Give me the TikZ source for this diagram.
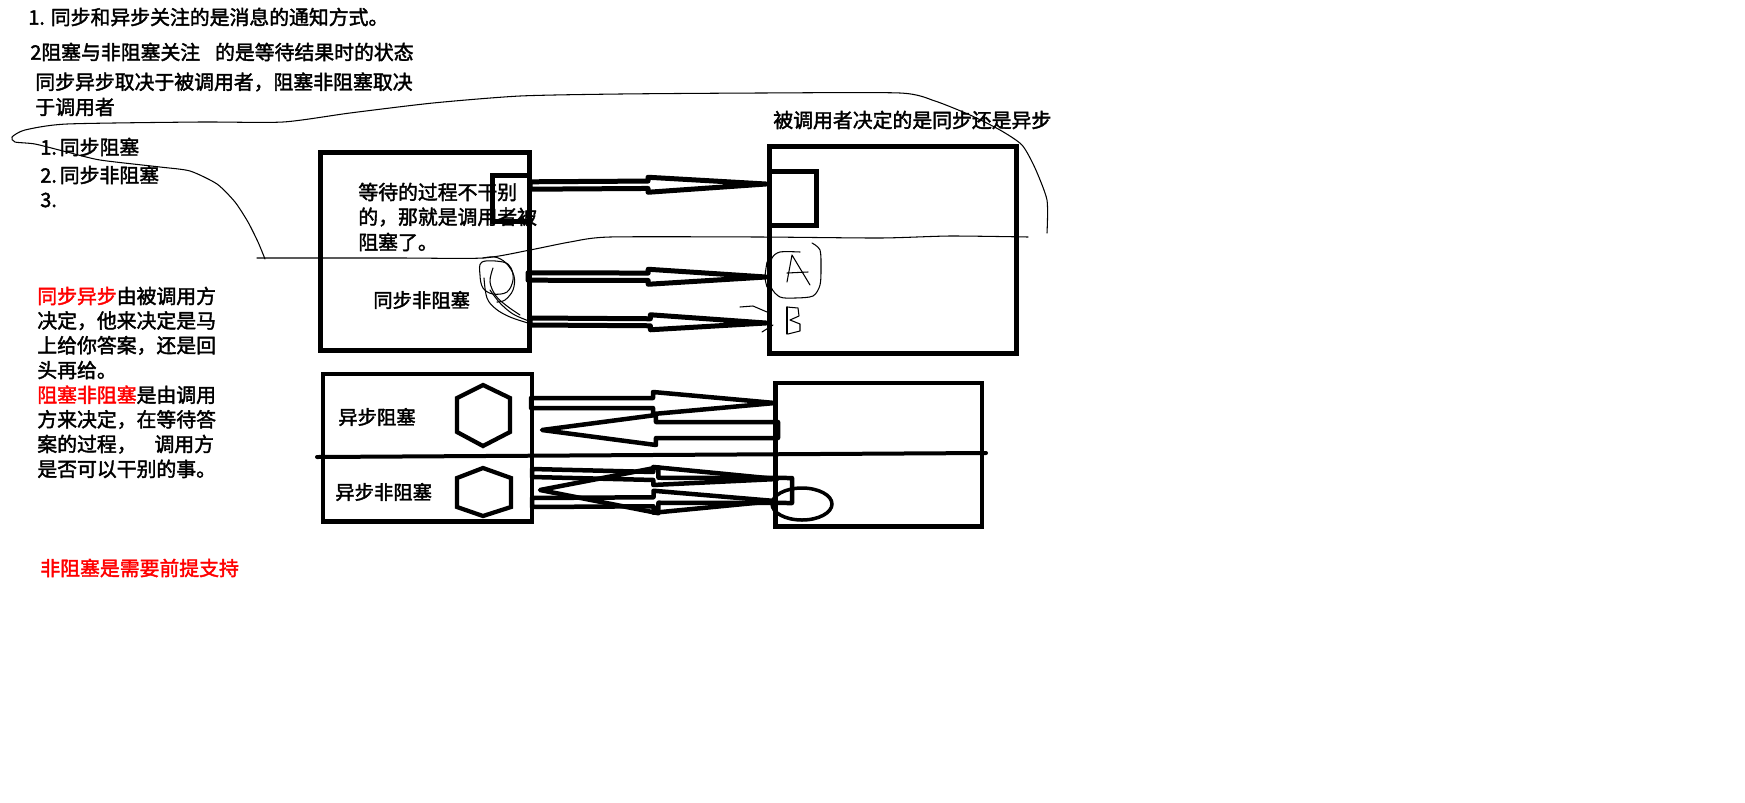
\documentclass[tikz,border=0pt]{standalone}
\usepackage{fontspec}
\newfontfamily\cjk{Noto Sans CJK SC}[FakeBold=2]
\usepackage{tikz}
\usetikzlibrary{positioning, calc, fit}

\begin{document}
\begin{tikzpicture}[x=0.02cm, y=-0.02cm,
        box/.style={draw, line width=0.1cm, inner sep=0pt},
        lowbox/.style={draw, line width=0.09cm, inner sep=0pt},
        hollow/.style={line width=0.1cm, line join=round},
        lowhollow/.style={line width=0.09cm, line join=round},
        hexline/.style={line width=0.085cm},
        scribble/.style={line width=0.6pt, line cap=round, line join=round},
        txt/.style={anchor=west, inner sep=0pt, font=\cjk\fontsize{11.3}{14}\selectfont},
        redtxt/.style={txt, text=red}]
        \useasboundingbox (0,0) rectangle (1745,802);

        % Notes on top
        \node[txt] (n1) at (28,17) {1.\hspace{0.3em}同步和异步关注的是消息的通知方式。};
        \node[txt] (n2) at (30,52) {2阻塞与非阻塞关注\hspace{0.75em}的是等待结果时的状态};
        \node[txt] (n3) at (35,82) {同步异步取决于被调用者，阻塞非阻塞取决};
        \node[txt] (n4) at (35,107) {于调用者};
        \node[txt] (k1) at (40,147) {1.\hspace{0.15em}同步阻塞};
        \node[txt] (k2) at (40,175) {2.\hspace{0.15em}同步非阻塞};
        \node[txt] (k3) at (40,200) {3.};

        % Notes on the left
        \foreach \t [count=\i] in {{\color{red}同步异步}由被调用方, 决定，他来决定是马,
            上给你答案，还是回, 头再给。, {\color{red}阻塞非阻塞}是由调用,
            方来决定，在等待答, 案的过程，\hspace{0.9em}调用方, 是否可以干别的事。} {
            \node[txt] (why\i) at (37, 271.3+24.7*\i) {\t};
        }
        \node[redtxt] (need) at (40,568) {非阻塞是需要前提支持};
        \node[txt] (callee) at (773,120) {被调用者决定的是同步还是异步};

        % Synchronous part
        \node[txt] (w1) at (358,192) {等待的过程不干别};
        \node[txt] (w2) at (358,217) {的，那就是调用者被};
        \node[txt] (w3) at (358,242) {阻塞了。};
        \node[txt, font=\cjk\fontsize{11}{14}\selectfont] (snb) at (373,300) {同步非阻塞};

        \coordinate (q1) at (530,185.5); \coordinate (r1) at (766,184);
        \coordinate (q2) at (528,276.5); \coordinate (r2) at (766,277);
        \coordinate (q3) at (530,321.5); \coordinate (r3) at (766,323);
        \foreach \from/\to/\f/\s/\w in {q1/r1/0.5/3.7/7.5, q2/r2/0.505/3.7/7.5, q3/r3/0.51/3.5/7.5} {
            \draw[hollow] ($(\from)+(0,\s)$) -- ($(\from)!\f!(\to)+(0,\s)$) -- ($(\from)!\f!(\to)+(0,\w)$)
                -- (\to) -- ($(\from)!\f!(\to)+(0,-\w)$) -- ($(\from)!\f!(\to)+(0,-\s)$)
                -- ($(\from)+(0,-\s)$) -- cycle;
        }

        \node[box, fit={(320.5,152.5) (529.5,350.5)}] (syncbox) {};
        \node[box, fit={(492.5,175.5) (529.5,221.5)}] (waitbox) {};
        \node[box, fit={(769,146.5) (1016.5,353.5)}] (topcallee) {};
        \node[box, fit={(769,171.5) (816.5,225)}] (resultbox) {};

        % Asynchronous part
        \node[txt, font=\cjk\fontsize{11}{14}\selectfont] (ab) at (338,417) {异步阻塞};
        \node[txt, font=\cjk\fontsize{11}{14}\selectfont] (anb) at (335,492) {异步非阻塞};

        \coordinate (a1) at (531,403);   \coordinate (b1) at (775,403);
        \coordinate (a2) at (778,430);   \coordinate (b2) at (542,430);
        \coordinate (a3) at (532,473);   \coordinate (b3) at (777,479);
        \coordinate (a4) at (792,490.5); \coordinate (b4) at (540,490);
        \coordinate (a5) at (532,502.5); \coordinate (b5) at (775,501);
        \foreach \from/\to/\f/\s/\w in {a1/b1/0.5/5/11, a2/b2/0.517/8/15, a3/b3/0.495/4/9,
            a4/b4/0.53/12.5/23, a5/b5/0.5/4.5/11} {
            \draw[lowhollow] ($(\from)+(0,\s)$) -- ($(\from)!\f!(\to)+(0,\s)$) -- ($(\from)!\f!(\to)+(0,\w)$)
                -- (\to) -- ($(\from)!\f!(\to)+(0,-\w)$) -- ($(\from)!\f!(\to)+(0,-\s)$)
                -- ($(\from)+(0,-\s)$) -- cycle;
        }

        \node[lowbox, fit={(323,374) (532,521.5)}] (asyncbox) {};
        \node[lowbox, fit={(775.5,383) (982,526.5)}] (lowcallee) {};
        \draw[hexline] (483,385) -- (510,398) -- (510,432) -- (483,446) -- (457,432) -- (457,398) -- cycle;
        \draw[hexline] (483,468) -- (511,478) -- (511,507) -- (483,516) -- (457,507) -- (457,478) -- cycle;
        \draw[line width=0.08cm, line cap=round] (317,457) -- (986,453);
        \draw[line width=0.07cm] (802,504) ellipse [x radius=0.6cm, y radius=0.32cm];

        % Hand drawn marks
        \draw[scribble] plot[smooth, tension=0.4] coordinates {(1047,233) (1047,200) (1035,168) (1022,145)
            (1000,130) (970,115) (935,101) (900,93) (760,93) (620,94) (520,96) (433,103) (350,113)
            (283,122) (200,122) (67,124) (25,130) (12,137) (15,142) (35,144) (67,152) (100,160)
            (160,167) (190,171) (217,184) (235,202) (248,222) (258,242) (265,259)};
        \draw[scribble] plot[smooth, tension=0.4] coordinates {(257,258) (400,258) (483,258) (530,250)
            (570,242) (610,237) (760,237) (880,238) (950,236) (1028,237)};
        \draw[scribble] plot[smooth cycle, tension=0.6] coordinates {(482,262) (480,275) (483,288)
            (493,294) (507,292) (513,280) (511,268) (503,262)};
        \draw[scribble] plot[smooth, tension=0.6] coordinates {(483,258) (495,257) (506,263) (514,276)
            (513,290) (505,300) (497,302)};
        \draw[scribble] plot[smooth, tension=0.6] coordinates {(484,278) (487,298) (496,309) (510,317) (528,323)};
        \draw[scribble] plot[smooth, tension=0.6] coordinates {(490,290) (500,303) (513,314) (529,321)};
        \draw[scribble] plot[smooth, tension=0.6] coordinates {(493,268) (490,282) (496,296) (507,306) (520,315)};
        \draw[scribble] plot[smooth, tension=0.5] coordinates {(812,243) (820,250) (821,268) (820,285)
            (813,296) (795,298) (780,297) (771,287) (770,270) (772,258) (780,252) (800,252)};
        \draw[scribble] plot[smooth] coordinates {(767,262) (765,277) (767,287)};
        \draw[scribble] (787,282) -- (792,255) -- (810,285);
        \draw[scribble] (787,273) -- (808,272);
        \draw[scribble] (787,307) -- (787,334);
        \draw[scribble] (787,307) -- (798,308) -- (799,316) -- (790,320) -- (800,324) -- (800,331) -- (788,334);
        \draw[scribble] (740,307) -- (753,306) -- (767,312);
        \draw[scribble] (762,332) -- (773,325);
\end{tikzpicture}
\end{document}
